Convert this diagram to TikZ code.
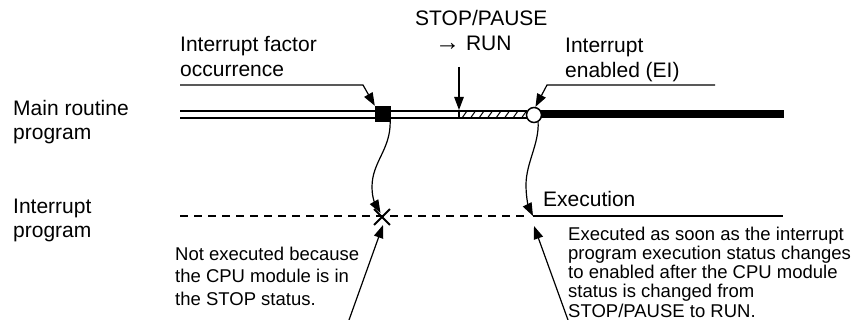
\documentclass[tikz,border=0pt]{standalone}
\usepackage{fontspec}
\setmainfont{Liberation Sans}
\usetikzlibrary{arrows.meta,shapes.misc}
\begin{document}
\begin{tikzpicture}[x=1pt,y=-1pt,
  lbl/.style={inner sep=0pt, anchor=base west, align=left, font=\fontsize{21}{24.5}\selectfont},
  note/.style={inner sep=0pt, anchor=base west, align=left, font=\fontsize{18.5}{22}\selectfont},
  thinline/.style={line width=1.2pt},
  arr/.style={line width=1.2pt, -{Triangle[length=13pt,width=9.5pt]}},
  rail/.style={line width=1.5pt},
]
\useasboundingbox (0,0) rectangle (856,320);
\fill[white] (0,0) rectangle (856,320);

% labels (anchor = baseline of the last line)
\node[lbl] (main) at (13,140) {Main routine\\program};
\node[lbl] (intp) at (13,237.5) {Interrupt\\program};
\node[lbl] (factor) at (180,76.5) {Interrupt factor\\occurrence};
\node[lbl] (stop) at (415,50.5) {STOP/PAUSE\\\hspace*{20pt}{\fontsize{25}{24.5}\selectfont →} RUN};
\node[lbl] (en) at (565,77.5) {Interrupt\\enabled (EI)};
\node[lbl] (exec) at (543,206.5) {Execution};
\node[note] (notl) at (175,305) {Not executed because\\the CPU module is in\\the STOP status.};
\node[note, font=\fontsize{18.5}{19.25}\selectfont] (notr) at (568,317) {Executed as soon as the interrupt\\program execution status changes\\to enabled after the CPU module\\status is changed from\\STOP/PAUSE to RUN.};

% main routine line
\draw[rail] (180,111) -- (527,111);
\draw[rail] (180,118) -- (527,118);
\draw[rail] (459,111) -- (459,118);
\foreach \x in {462,470.5,...,522} \draw[line width=1pt] (\x,118) -- (\x+5,111);
\fill (540,110) rectangle (784,118);
\node[fill=black, minimum size=16pt, inner sep=0pt] (sq) at (383,114) {};
\node[circle, draw, fill=white, line width=1.5pt, minimum size=15pt, inner sep=0pt] (ei) at (534,115) {};

% interrupt program line
\draw[thinline, dash pattern=on 8pt off 6pt] (180,216) -- (525,216);
\node[draw, cross out, line width=1.8pt, minimum size=14pt, inner sep=0pt] (xm) at (382,217) {};
\coordinate (es) at (533,216);
\coordinate (ee) at (783,216);
\draw[thinline] (es) -- (ee);

% curves
\coordinate (xa) at (380.5,213);
\draw[arr] ([xshift=-1pt]sq.south east) .. controls +(0,28) and +(0,-25) .. (372,187) .. controls +(0,13) and +(-4,-7) .. (xa);
\draw[arr] (ei.-60) .. controls +(1,22) and +(0,-22) .. (526,185) .. controls +(0,14) and +(-4,-8) .. (es);

% leaders
\coordinate (f0) at (180,85);
\coordinate (f1) at (363,85);
\draw[arr] (f0) -- (f1) -- (sq.north west);
\coordinate (e0) at (715,85);
\coordinate (e1) at (547,85);
\draw[arr] (e0) -- (e1) -- (ei.80);
\coordinate (s0) at (459,67);
\coordinate (s1) at (459,110);
\draw[arr] (s0) -- (s1);

% bottom arrows
\coordinate (b1) at (349,320);
\coordinate (xb) at (383,225);
\draw[arr] (b1) -- (xb);
\coordinate (b2) at (568,320);
\coordinate (eb) at (534,226);
\draw[arr] (b2) -- (eb);
\end{tikzpicture}
\end{document}
